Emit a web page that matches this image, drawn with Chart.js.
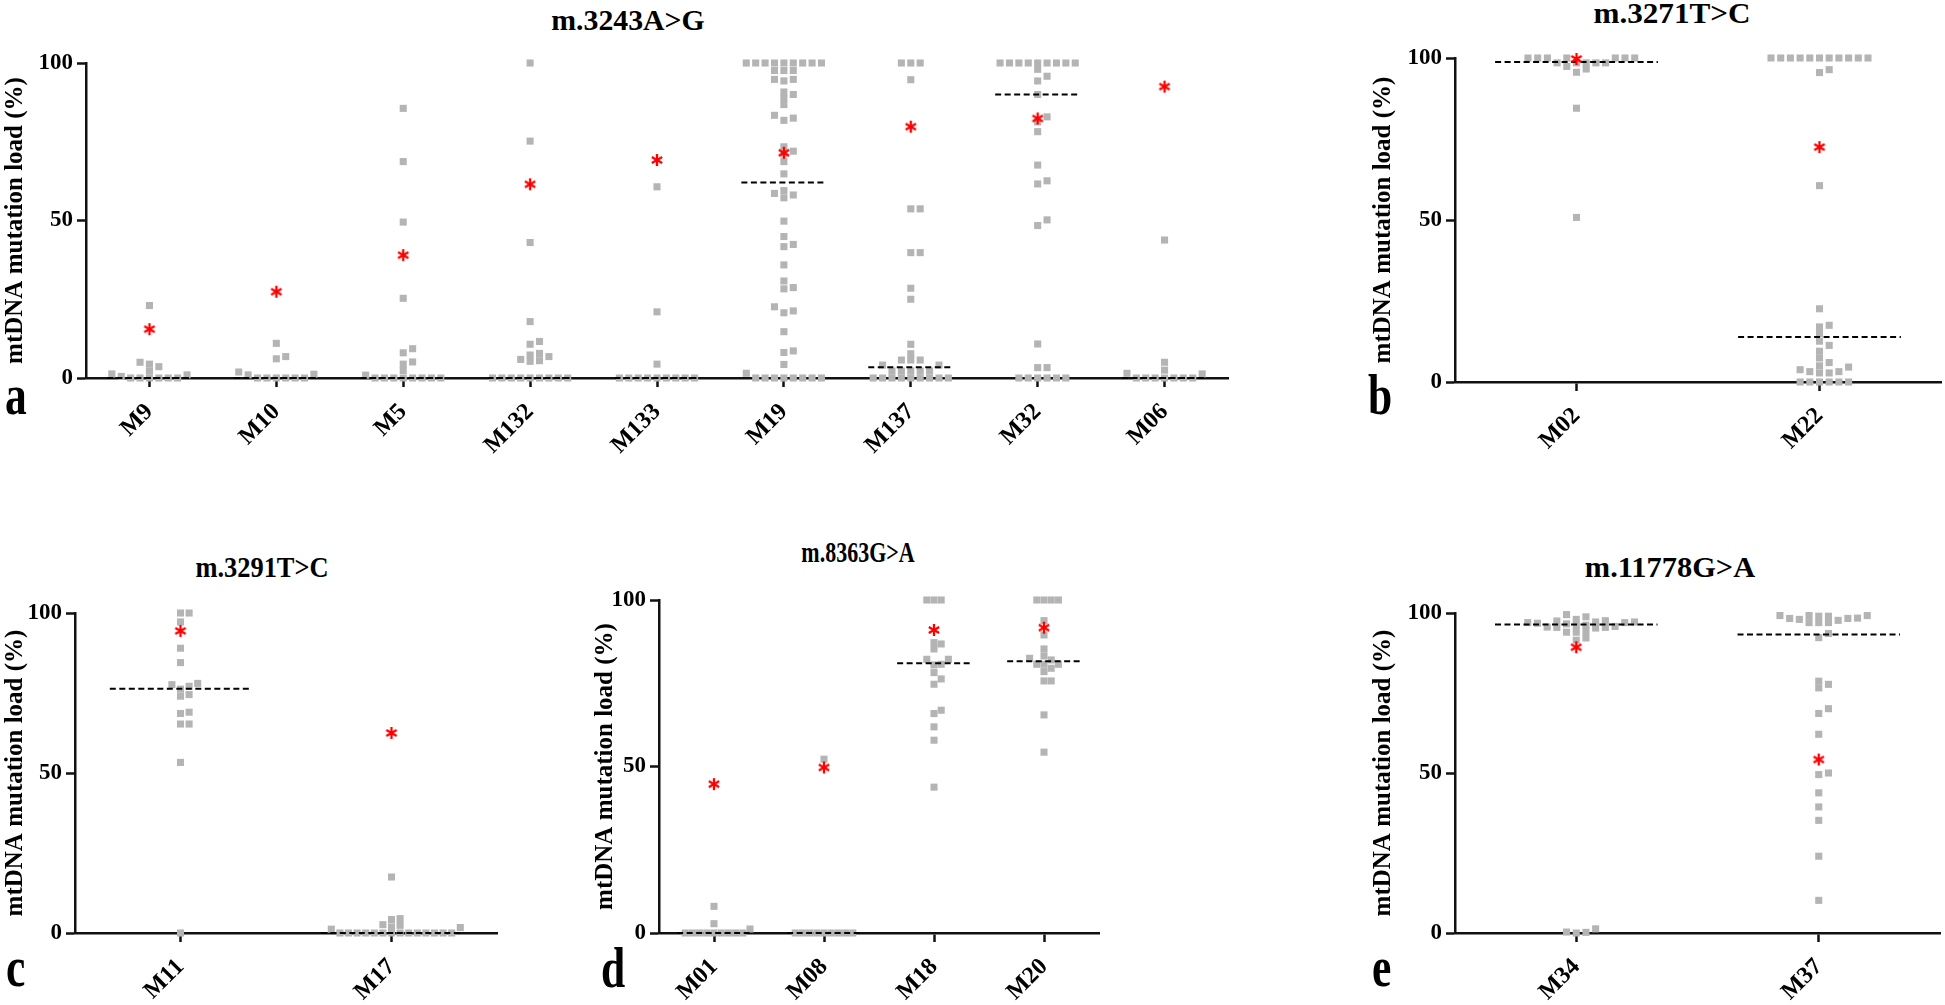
<!DOCTYPE html>
<html>
<head>
<meta charset="utf-8">
<script src="https://cdn.jsdelivr.net/npm/chart.js@4/dist/chart.umd.min.js"></script>
<style>
  body { margin:0; background:#fff; width:1945px; height:1005px; position:relative; overflow:hidden;
         font-family:"Liberation Serif","Times New Roman",serif; color:#000; }
  canvas { position:absolute; }
  .ttl { position:absolute; font-weight:bold; font-size:29px; line-height:1; white-space:nowrap; transform-origin:50% 50%; }
  .tag { position:absolute; font-weight:bold; font-size:58px; line-height:1; transform:scaleX(0.75); transform-origin:0 0; }
</style>
</head>
<body>
<div class="ttl" id="t-a" style="left:628px;top:6px">m.3243A&gt;G</div>
<div class="ttl" id="t-b" style="left:1672px;top:-1px">m.3271T&gt;C</div>
<div class="ttl" id="t-c" style="left:262px;top:553px">m.3291T&gt;C</div>
<div class="ttl" id="t-d" style="left:858px;top:538px">m.8363G&gt;A</div>
<div class="ttl" id="t-e" style="left:1670px;top:553px">m.11778G&gt;A</div>
<div class="tag" style="left:5px;top:366px">a</div>
<div class="tag" style="left:1368px;top:366px">b</div>
<div class="tag" style="left:6px;top:938px">c</div>
<div class="tag" style="left:601px;top:939px">d</div>
<div class="tag" style="left:1372px;top:938px">e</div>

<canvas id="ca" width="1240" height="440" style="left:0;top:40px"></canvas>
<canvas id="cb" width="577" height="440" style="left:1368px;top:40px"></canvas>
<canvas id="cc" width="510" height="425" style="left:0;top:580px"></canvas>
<canvas id="cd" width="520" height="430" style="left:590px;top:575px"></canvas>
<canvas id="ce" width="577" height="425" style="left:1368px;top:580px"></canvas>

<script>
// ── Data (mutation load, %) ──────────────────────────────────
// loads  = grey squares per patient, stars = red asterisk, median = dashed line

// a: m.3243A>G
const aCats   = ['M9', 'M10', 'M5', 'M132', 'M133', 'M19', 'M137', 'M32', 'M06'];
const aLoads  = [
  [23, 5, 4.4, 3.6, 2.2, 1.3, 1, 0.5, 0, 0, 0, 0, 0, 0],
  [11, 6.8, 6.1, 1.9, 1.2, 1, 0, 0, 0, 0, 0, 0],
  [85.6, 68.7, 49.5, 25.3, 9.3, 8, 5.1, 4.4, 2.4, 0.9, 0, 0, 0, 0, 0, 0, 0, 0],
  [100, 75.2, 43, 17.9, 11.6, 10.7, 7.8, 7.3, 6.8, 5.9, 5.5, 5.3, 0, 0, 0, 0, 0, 0, 0, 0, 0],
  [60.7, 21, 4.4, 0, 0, 0, 0, 0, 0, 0, 0, 0],
  [100, 100, 100, 100, 100, 100, 100, 100, 100, 97.6, 97.6, 97.6, 94.8, 94.3, 94.8,
   90.8, 90, 88.8, 86.8, 83.4, 82.5, 81.8, 73.4, 72, 71.1, 68.7, 64.8, 59.5, 58.6, 58.1, 57.2,
   49.8, 44.9, 42.4, 41.7, 35.9, 30.8, 28.7, 28.3, 22.6, 21.3, 20.7, 14.7, 8.6, 8.1, 4.3, 1.5,
   0, 0, 0, 0, 0, 0, 0, 0],
  [100, 100, 100, 94.7, 53.7, 53.7, 39.8, 39.8, 28.5, 25, 10.7, 7.7, 5.7, 5.7, 5.7, 4.1, 4.1,
   2.2, 2.2, 2.2, 2.2, 2.2, 0, 0, 0, 0, 0, 0, 0, 0, 0],
  [100, 100, 100, 100, 100, 100, 100, 100, 100, 98, 95.8, 94.3, 90, 82.9, 81.3, 78.2, 67.6,
   62.6, 61.6, 50.2, 48.4, 10.8, 3.3, 3.3, 0, 0, 0, 0, 0, 0],
  [43.8, 5, 2.5, 1.5, 1.3, 0, 0, 0, 0, 0, 0, 0],
];
const aStars  = [15.5, 27.4, 39, 61.5, 69.2, 71.5, 79.8, 82.4, 92.5];
const aMedian = [0, 0, 0, 0, 0, 62.1, 3.4, 90, 0];

// b: m.3271T>C
const bCats   = ['M02', 'M22'];
const bLoads  = [
  [100, 100, 100, 100, 100, 100, 100, 98.5, 98.5, 98.5, 98.5, 98.5, 97.4, 96.6, 95.6, 84.5, 50.8],
  [100, 100, 100, 100, 100, 100, 100, 100, 100, 100, 100, 96.4, 95.5, 60.6, 22.6, 17.5, 17, 15,
   12.6, 11.3, 9.5, 7.4, 6, 5, 4.6, 3.8, 3.2, 3.2, 2.8, 2.8, 0, 0, 0, 0, 0, 0],
];
const bStars  = [99.7, 72.5];
const bMedian = [98.8, 13.9];

// c: m.3291T>C
const cCats   = ['M11', 'M17'];
const cLoads  = [
  [100, 100, 97.2, 89, 84.5, 78, 77.6, 77.1, 76.2, 74.5, 74, 69, 68.6, 65.3, 65.3, 53.3, 0],
  [17.5, 4.5, 4.2, 2.6, 2.4, 1.9, 1.7, 1.2, 0, 0, 0, 0, 0, 0, 0, 0, 0, 0, 0, 0, 0, 0],
];
const cStars  = [94.4, 62.5];
const cMedian = [76.3, 0];

// d: m.8363G>A
const dCats   = ['M01', 'M08', 'M18', 'M20'];
const dLoads  = [
  [8, 2.8, 1.2, 0, 0, 0, 0, 0, 0, 0, 0, 0],
  [52.2, 0, 0, 0, 0, 0, 0, 0, 0, 0],
  [100, 100, 100, 87.2, 86.8, 85.3, 82.2, 82.2, 80.7, 80.5, 78.2, 76.3, 74.7, 66.9, 65.9, 61.9, 57.9, 43.8],
  [100, 100, 100, 100, 93.8, 89.5, 85.3, 83.2, 82.5, 82, 80.7, 80.7, 80.7, 79.5, 78.5, 75.7, 75.7, 65.5, 54.3],
];
const dStars  = [44.7, 49.7, 91, 91.7];
const dMedian = [0, 0, 81, 81.6];

// e: m.11778G>A
const eCats   = ['M34', 'M37'];
const eLoads  = [
  [99.5, 98.8, 98, 97.6, 97.5, 97.2, 97.2, 97, 97, 96.8, 96.6, 96.2, 96, 95.8, 95.6, 95.5, 95.5,
   95.3, 94.2, 94, 94, 92.2, 91.5, 1.3, 0.3, 0.2, 0],
  [99.2, 99.2, 99.2, 99, 99, 98.4, 98.3, 98.3, 98, 97.7, 97, 97, 97, 93.6, 92.3, 78.7, 77.7, 76.6,
   70.1, 68.6, 62.1, 50, 49.5, 43.8, 39.4, 35.2, 24, 10.2],
];
const eStars  = [89.3, 54.2];
const eMedian = [96.4, 93.3];

const yTicks = [0, 50, 100];

// ── Panel geometry (canvas box, axis sizes, dot spacing) ──────
const panels = [
  { id: 'ca', cats: aCats, loads: aLoads, stars: aStars, median: aMedian, yW: 86, xH: 102, padTop: 23, padRight: 12, step: 9.4 },
  { id: 'cb', cats: bCats, loads: bLoads, stars: bStars, median: bMedian, yW: 87, xH: 98,  padTop: 18, padRight: 4,  step: 9.7 },
  { id: 'cc', cats: cCats, loads: cLoads, stars: cStars, median: cMedian, yW: 75, xH: 72,  padTop: 33, padRight: 13, step: 8.6 },
  { id: 'cd', cats: dCats, loads: dLoads, stars: dStars, median: dMedian, yW: 69, xH: 72,  padTop: 25, padRight: 11, step: 7.2 },
  { id: 'ce', cats: eCats, loads: eLoads, stars: eStars, median: eMedian, yW: 87, xH: 72,  padTop: 33, padRight: 5,  step: 9.7 },
];

const titleWidths = { 't-a': 153, 't-b': 157, 't-c': 133, 't-d': 113, 't-e': 170 };

const SERIF = '"Liberation Serif", "Times New Roman", serif';
Chart.defaults.font.family = SERIF;
Chart.defaults.color = '#000';

// ── Red asterisk marker ───────────────────────────────────────
function asterisk() {
  const c = document.createElement('canvas');
  c.width = c.height = 14;
  const g = c.getContext('2d');
  g.strokeStyle = '#f00';
  g.lineWidth = 2.3;
  [90, 30, 150].forEach(a => {
    const r = a * Math.PI / 180, dx = Math.cos(r) * 6, dy = Math.sin(r) * 6;
    g.beginPath(); g.moveTo(7 - dx, 7 - dy); g.lineTo(7 + dx, 7 + dy); g.stroke();
  });
  return c;
}
const STAR = asterisk();

// ── Scatter-dot layout: like values sit side by side ──────────
function swarm(vals, ci, stepPx, pxX, pxY) {
  const placed = [];
  return vals.slice().sort((p, q) => p - q).map(v => {
    const y = v * pxY;
    for (let k = 0; k < 80; k++) {
      const col = k === 0 ? 0 : (k % 2 ? 1 : -1) * Math.ceil(k / 2);
      if (!placed.some(p => p.col === col && Math.abs(p.y - y) < 6)) {
        placed.push({ col, y });
        return { x: ci + col * stepPx / pxX, y: v };
      }
    }
    return { x: ci, y: v };
  });
}

function buildPanel(p) {
  const canvas = document.getElementById(p.id);
  const n      = p.cats.length;
  const pxX    = (canvas.width - p.yW - p.padRight) / n;
  const pxY    = (canvas.height - p.padTop - p.xH) / 100;

  const dots = [];
  p.loads.forEach((vals, i) => dots.push(...swarm(vals, i, p.step, pxX, pxY)));

  const datasets = [{
    data: p.stars.map((v, i) => ({ x: i, y: v })),
    pointStyle: STAR, pointRadius: 7, order: 1, clip: false,
  }];
  p.median.forEach((m, i) => datasets.push({
    data: [{ x: i - 0.335, y: m }, { x: i + 0.335, y: m }],
    showLine: true, borderColor: '#000', borderWidth: 2, borderDash: [6, 3.5],
    pointRadius: 0, order: 2, clip: false,
  }));
  datasets.push({
    data: dots, pointStyle: 'rect', pointRadius: 5, backgroundColor: '#b4b4b4',
    borderWidth: 0, order: 3, clip: false,
  });

  new Chart(canvas, {
    type: 'scatter',
    data: { datasets },
    options: {
      responsive: false, animation: false, devicePixelRatio: 1,
      layout: { padding: { top: p.padTop, right: p.padRight, bottom: 0, left: 0 }, autoPadding: false },
      plugins: { legend: { display: false }, tooltip: { enabled: false } },
      scales: {
        x: {
          type: 'linear', min: -0.5, max: n - 0.5,
          afterBuildTicks: s => { s.ticks = p.cats.map((_, i) => ({ value: i })); },
          afterFit: s => { s.height = p.xH; s.paddingLeft = 0; s.paddingRight = 0; },
          ticks: {
            autoSkip: false, minRotation: 45, maxRotation: 45, padding: 11, color: '#000',
            font: { size: 24, weight: 'bold' },
            callback: v => p.cats[v] ?? '',
          },
          grid: { drawOnChartArea: false, drawTicks: true, tickLength: 9, tickWidth: 2.5, tickColor: '#111' },
          border: { display: true, color: '#111', width: 2.5 },
        },
        y: {
          min: 0, max: 100,
          afterBuildTicks: s => { s.ticks = yTicks.map(v => ({ value: v })); },
          afterFit: s => { s.width = p.yW; s.paddingTop = 0; s.paddingBottom = 0; },
          ticks: { padding: 4, color: '#000', font: { size: 23, weight: 'bold' } },
          grid: { drawOnChartArea: false, drawTicks: true, tickLength: 9, tickWidth: 2.5, tickColor: '#111' },
          border: { display: true, color: '#111', width: 2.5 },
          title: {
            display: true, text: 'mtDNA mutation load (%)', color: '#000',
            font: { size: 25, weight: 'bold' }, padding: { top: 1, bottom: 0 },
          },
        },
      },
    },
  });
}

// ── Panel titles: stretch to the widths in the figure ─────────
function fitTitles() {
  Object.entries(titleWidths).forEach(([id, w]) => {
    const el = document.getElementById(id);
    const k  = w / el.offsetWidth;
    el.style.transform = `translateX(-50%) scaleX(${k.toFixed(3)})`;
  });
}

panels.forEach(buildPanel);
fitTitles();
</script>
</body>
</html>
